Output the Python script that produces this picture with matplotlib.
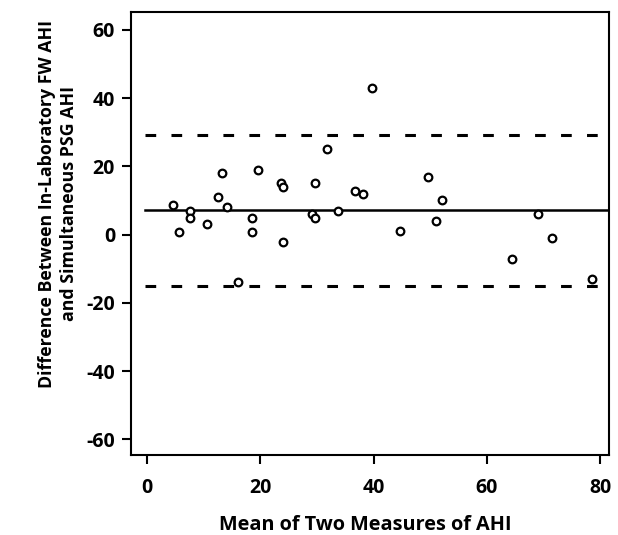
import matplotlib.pyplot as plt

# Bland-Altman: in-lab FW AHI vs simultaneous PSG AHI
mean_ahi = [4.6, 5.7, 7.6, 7.6, 10.6, 12.6, 13.2, 14.2, 16.0, 18.6, 18.6,
            19.6, 23.6, 24.0, 24.0, 29.1, 29.7, 29.7, 31.7, 33.7, 36.7,
            38.2, 39.8, 44.7, 49.6, 52.0, 51.1, 64.4, 69.0, 71.5, 78.5]
diff_ahi = [8.8, 0.8, 7.0, 4.9, 3.0, 11.0, 18.0, 8.0, -14.0, 4.9, 0.8,
            18.9, 15.0, 13.9, -2.2, 5.9, 4.9, 15.0, 25.1, 7.0, 12.9,
            12.0, 43.0, 0.9, 17.0, 10.0, 3.9, -7.1, 6.1, -1.1, -13.0]

bias = 7.1
upper_loa = 29.1
lower_loa = -15.0

plt.rcParams['font.family'] = ['Open Sans', 'DejaVu Sans']
plt.rcParams['font.weight'] = 'bold'
plt.rcParams['axes.unicode_minus'] = False

fig = plt.figure(figsize=(6.18, 5.35), dpi=100)
ax = fig.add_axes([0.212, 0.149, 0.773, 0.829])

ax.axhline(bias, xmin=0.03, xmax=1.0, color='black', lw=1.8)
ax.axhline(upper_loa, xmin=0.03, xmax=1.0, color='black', lw=2.2, dashes=(3.5, 5))
ax.axhline(lower_loa, xmin=0.03, xmax=1.0, color='black', lw=2.2, dashes=(3.5, 5))

ax.plot(mean_ahi, diff_ahi, 'o', mfc='white', mec='black', mew=1.6, ms=5.5)

ax.set_xlim(-2.8, 81.5)
ax.set_ylim(-64.7, 65.3)
ax.set_xticks([0, 20, 40, 60, 80])
ax.set_yticks([-60, -40, -20, 0, 20, 40, 60])
ax.tick_params(direction='out', length=6.5, width=1.5, labelsize=14)
ax.tick_params(axis='x', pad=10)
ax.tick_params(axis='y', pad=5)
for lab in ax.get_xticklabels() + ax.get_yticklabels():
    lab.set_fontweight('bold')
for s in ax.spines.values():
    s.set_linewidth(1.5)

ax.set_xlabel("Mean of Two Measures of AHI", fontsize=14.3, fontweight='bold')
ax.set_ylabel("Difference Between In-Laboratory FW AHI\nand Simultaneous PSG AHI",
              fontsize=12.8, fontweight='bold', linespacing=1.3)
ax.xaxis.set_label_coords(0.49, -0.135)
ax.xaxis.label.set_va('top')
ax.yaxis.set_label_coords(-0.111, 0.567)

plt.savefig('out.png', dpi=100)
